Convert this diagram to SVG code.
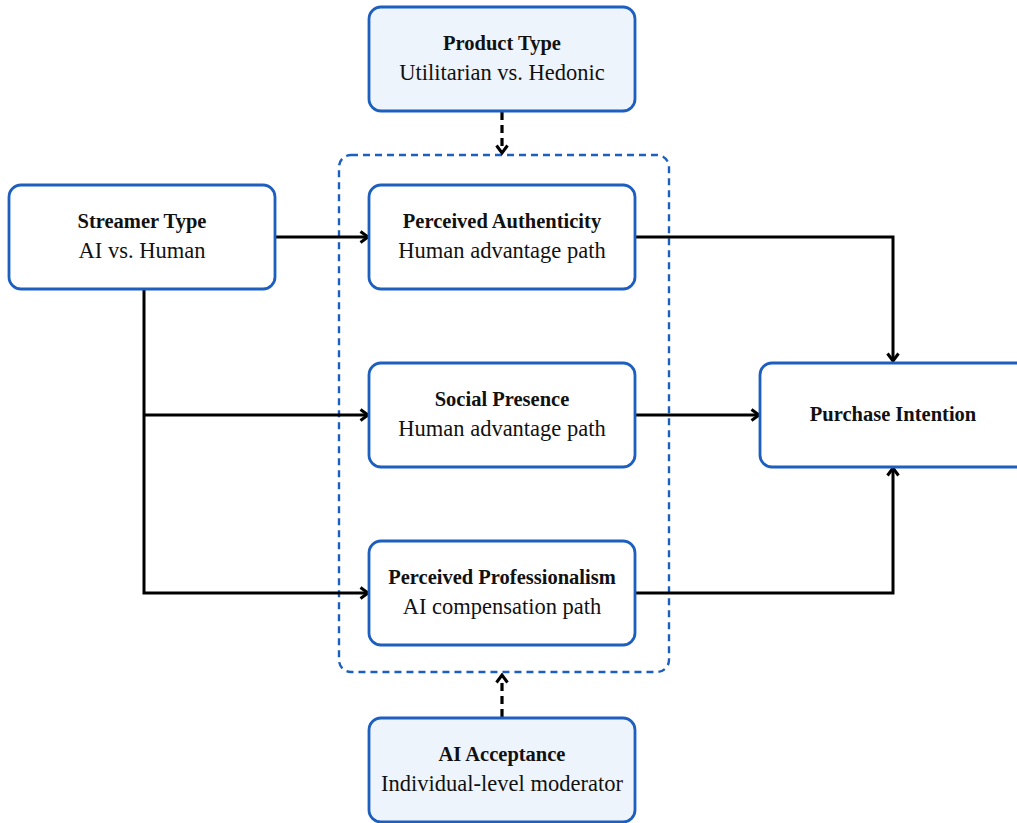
<svg xmlns="http://www.w3.org/2000/svg" width="1017" height="823" viewBox="0 0 1017 823">
<defs>
<style>
.box{fill:#ffffff;stroke:#1d5fbf;stroke-width:2.8}
.mod{fill:#eef4fc;stroke:#1d5fbf;stroke-width:2.8}
.grp{fill:none;stroke:#1d5fbf;stroke-width:2.4;stroke-dasharray:7 5}
.t{font-family:"Liberation Serif","Times New Roman",serif;font-size:20.5px;font-weight:bold;fill:#111;text-anchor:middle}
.s{font-family:"Liberation Serif","Times New Roman",serif;font-size:22.5px;fill:#111;text-anchor:middle}
.c{fill:none;stroke:#000;stroke-width:3}
.d{fill:none;stroke:#000;stroke-width:3.2;stroke-dasharray:8 5}
</style>
<marker id="ah" viewBox="0 0 14 14" refX="11.5" refY="7" markerWidth="14" markerHeight="14" markerUnits="userSpaceOnUse" orient="auto">
<path d="M4,1.5 L11.5,7 L4,12.5" fill="none" stroke="#000" stroke-width="3"/>
</marker>
</defs>
<rect width="1017" height="823" fill="#ffffff"/>
<rect id="group" class="grp" x="339" y="155" width="330" height="517" rx="12"/>
<g id="connectors">
<path class="d" d="M502,112 V153" marker-end="url(#ah)"/>
<path class="d" d="M502,717 V675" marker-end="url(#ah)"/>
<path class="c" d="M276,237 H368" marker-end="url(#ah)"/>
<path class="c" d="M144,290 V593 H368" marker-end="url(#ah)"/>
<path class="c" d="M144,415 H368" marker-end="url(#ah)"/>
<path class="c" d="M636,237 H893 V361" marker-end="url(#ah)"/>
<path class="c" d="M636,415 H759" marker-end="url(#ah)"/>
<path class="c" d="M636,593 H893 V468" marker-end="url(#ah)"/>
</g>
<g id="product-type">
<rect class="mod" x="369" y="7" width="266" height="104" rx="12"/>
<text class="t" x="502" y="50">Product Type</text>
<text class="s" x="502" y="80">Utilitarian vs. Hedonic</text>
</g>
<g id="streamer-type">
<rect class="box" x="9" y="185" width="266" height="104" rx="12"/>
<text class="t" x="142" y="228">Streamer Type</text>
<text class="s" x="142" y="258">AI vs. Human</text>
</g>
<g id="perceived-authenticity">
<rect class="box" x="369" y="185" width="266" height="104" rx="12"/>
<text class="t" x="502" y="228">Perceived Authenticity</text>
<text class="s" x="502" y="258">Human advantage path</text>
</g>
<g id="social-presence">
<rect class="box" x="369" y="363" width="266" height="104" rx="12"/>
<text class="t" x="502" y="406">Social Presence</text>
<text class="s" x="502" y="436">Human advantage path</text>
</g>
<g id="perceived-professionalism">
<rect class="box" x="369" y="541" width="266" height="104" rx="12"/>
<text class="t" x="502" y="584">Perceived Professionalism</text>
<text class="s" x="502" y="614">AI compensation path</text>
</g>
<g id="purchase-intention">
<rect class="box" x="760" y="363" width="270" height="104" rx="12"/>
<text class="t" x="893" y="421">Purchase Intention</text>
</g>
<g id="ai-acceptance">
<rect class="mod" x="369" y="718" width="266" height="104" rx="12"/>
<text class="t" x="502" y="761">AI Acceptance</text>
<text class="s" x="502" y="791">Individual-level moderator</text>
</g>
</svg>
